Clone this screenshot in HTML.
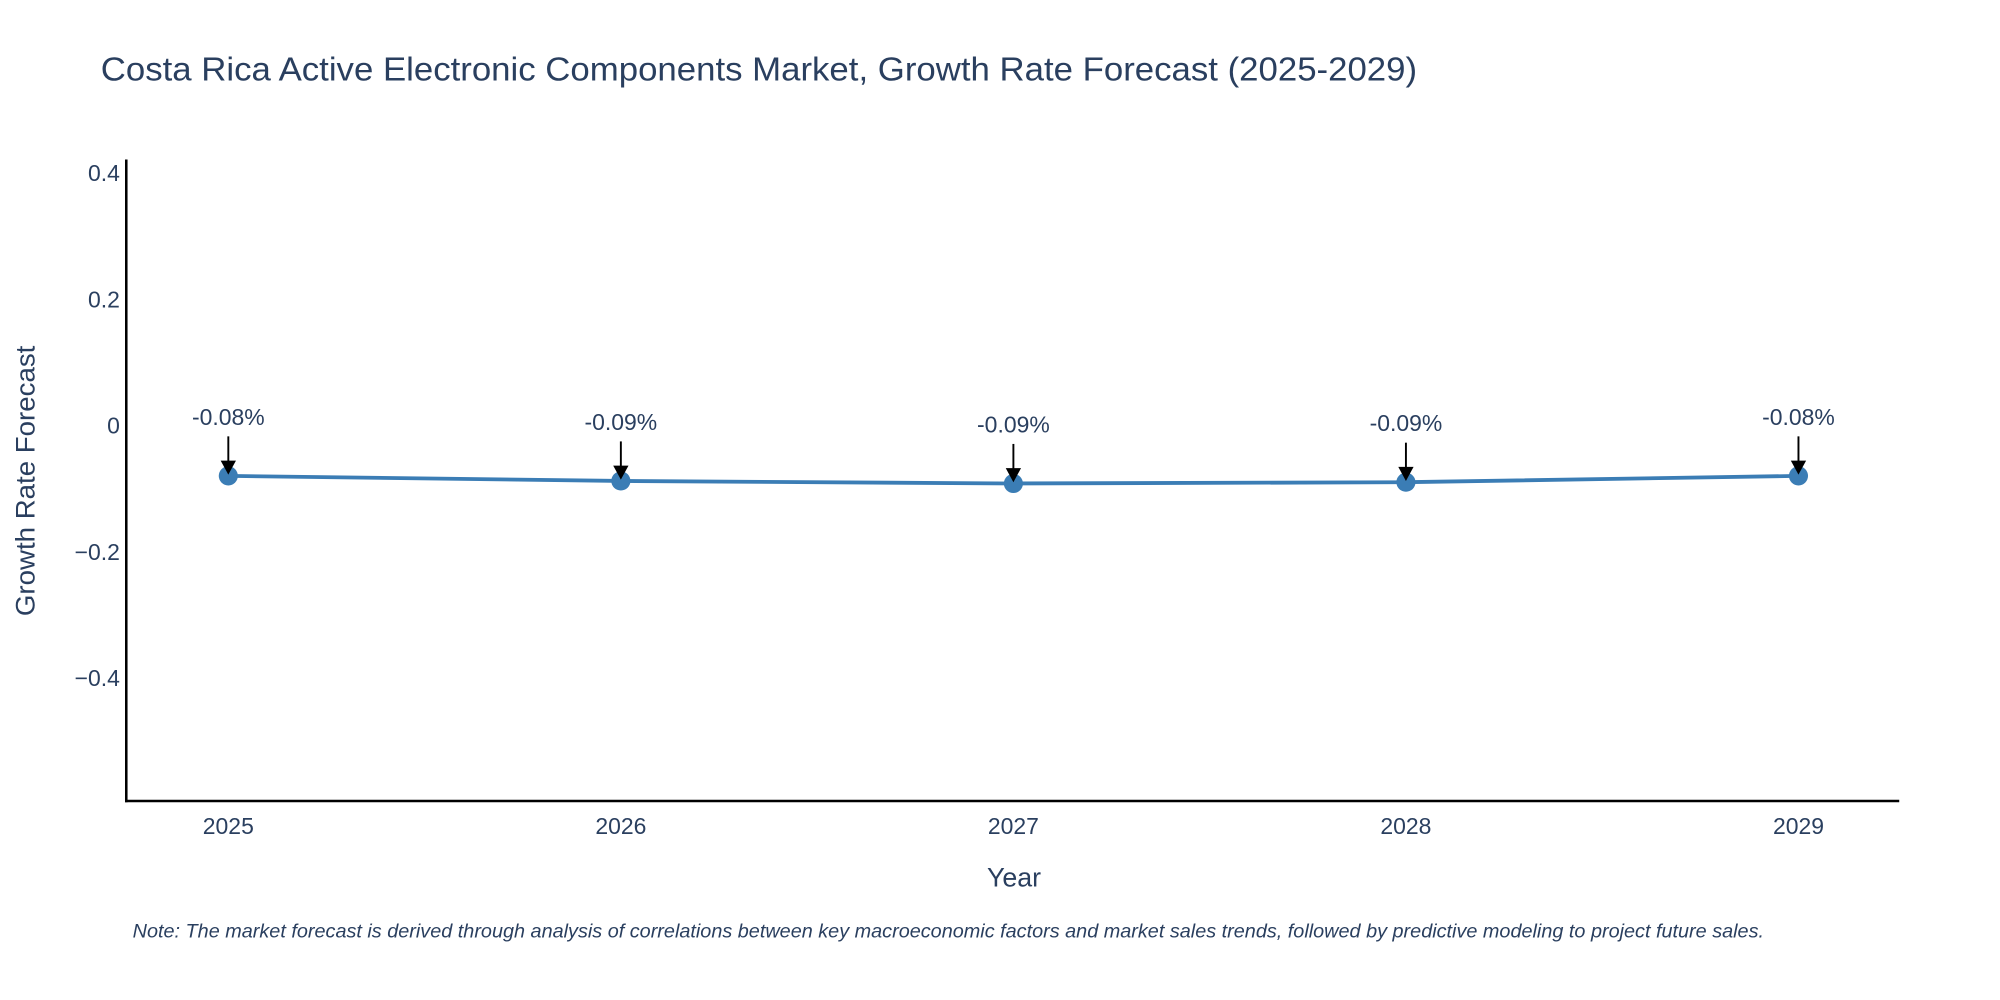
<!DOCTYPE html>
<html><head><meta charset="utf-8"><style>
html,body{margin:0;padding:0;background:#fff;}
svg{display:block;font-family:"Liberation Sans","DejaVu Sans",sans-serif;}
</style></head><body>
<svg id="chart" width="2000" height="1000" viewBox="0 0 1568 784" xmlns="http://www.w3.org/2000/svg">
<rect width="1568" height="784" fill="#fff"/>
<text x="79" y="63" font-size="26" fill="#2a3f5f" textLength="1032" lengthAdjust="spacingAndGlyphs">Costa Rica Active Electronic Components Market, Growth Rate Forecast (2025-2029)</text>
<g id="yticks"></g>
<g id="xticks"></g>
<line x1="99" y1="125" x2="99" y2="629" stroke="#000" stroke-width="2"/>
<line x1="98" y1="628" x2="1489" y2="628" stroke="#000" stroke-width="2"/>
<text transform="translate(27,377) rotate(-90)" text-anchor="middle" font-size="21" fill="#2a3f5f" textLength="212" lengthAdjust="spacingAndGlyphs">Growth Rate Forecast</text>
<text x="795" y="695" text-anchor="middle" font-size="21" fill="#2a3f5f">Year</text>
<g id="series"></g>
<g id="annots"></g>
<text x="104" y="735" font-size="15" font-style="italic" fill="#2a3f5f" textLength="1279" lengthAdjust="spacingAndGlyphs">Note: The market forecast is derived through analysis of correlations between key macroeconomic factors and market sales trends, followed by predictive modeling to project future sales.</text>
</svg>
<script>
const years = [2025, 2026, 2027, 2028, 2029];
const values = [-0.079, -0.087, -0.091, -0.089, -0.079];
const labels = ["-0.08%", "-0.09%", "-0.09%", "-0.09%", "-0.08%"];
const yTicks = [0.4, 0.2, 0, -0.2, -0.4];
const yTickLabels = ["0.4", "0.2", "0", "\u22120.2", "\u22120.4"];

const NS = "http://www.w3.org/2000/svg";
function xScale(yr){ return 179 + (yr - 2025) * (1410 - 179) / 4; }
function yScale(v){ return 334 - v * 495; }
function mk(tag, attrs, parent){ const e = document.createElementNS(NS, tag); for (const k in attrs) e.setAttribute(k, attrs[k]); parent.appendChild(e); return e; }

const yt = document.getElementById('yticks');
yTicks.forEach((v, i) => {
  const t = mk('text', {x: 94, y: yScale(v) + 6, 'text-anchor': 'end', 'font-size': 18, fill: '#2a3f5f'}, yt);
  
  
  t.textContent = yTickLabels[i];
});
const xt = document.getElementById('xticks');
years.forEach(yr => {
  const t = mk('text', {x: xScale(yr), y: 654, 'text-anchor': 'middle', 'font-size': 18, fill: '#2a3f5f'}, xt);
  
  
  t.textContent = yr;
});
const s = document.getElementById('series');
const pts = years.map((yr, i) => xScale(yr) + ',' + yScale(values[i])).join(' ');
const line = mk('polyline', {points: pts, fill: 'none', stroke: '#3b7db5', 'stroke-width': 3}, s);


years.forEach((yr, i) => {
  const c = mk('circle', {cx: xScale(yr), cy: yScale(values[i]), r: 7.5, fill: '#3b7db5'}, s);
  
  
});
const a = document.getElementById('annots');
years.forEach((yr, i) => {
  const x = xScale(yr), y = yScale(values[i]);
  const l = mk('line', {x1: x, y1: y - 31, x2: x, y2: y - 10, stroke: '#000', 'stroke-width': 1.5}, a);
  
  
  const h = mk('polygon', {points: `${x-6},${y-12} ${x+6},${y-12} ${x},${y-1}`, fill: '#000'}, a);
  
  
  const t = mk('text', {x: x, y: y - 40, 'text-anchor': 'middle', 'font-size': 18, fill: '#2a3f5f'}, a);
  
  
  t.textContent = labels[i];
});
</script>
</body></html>
